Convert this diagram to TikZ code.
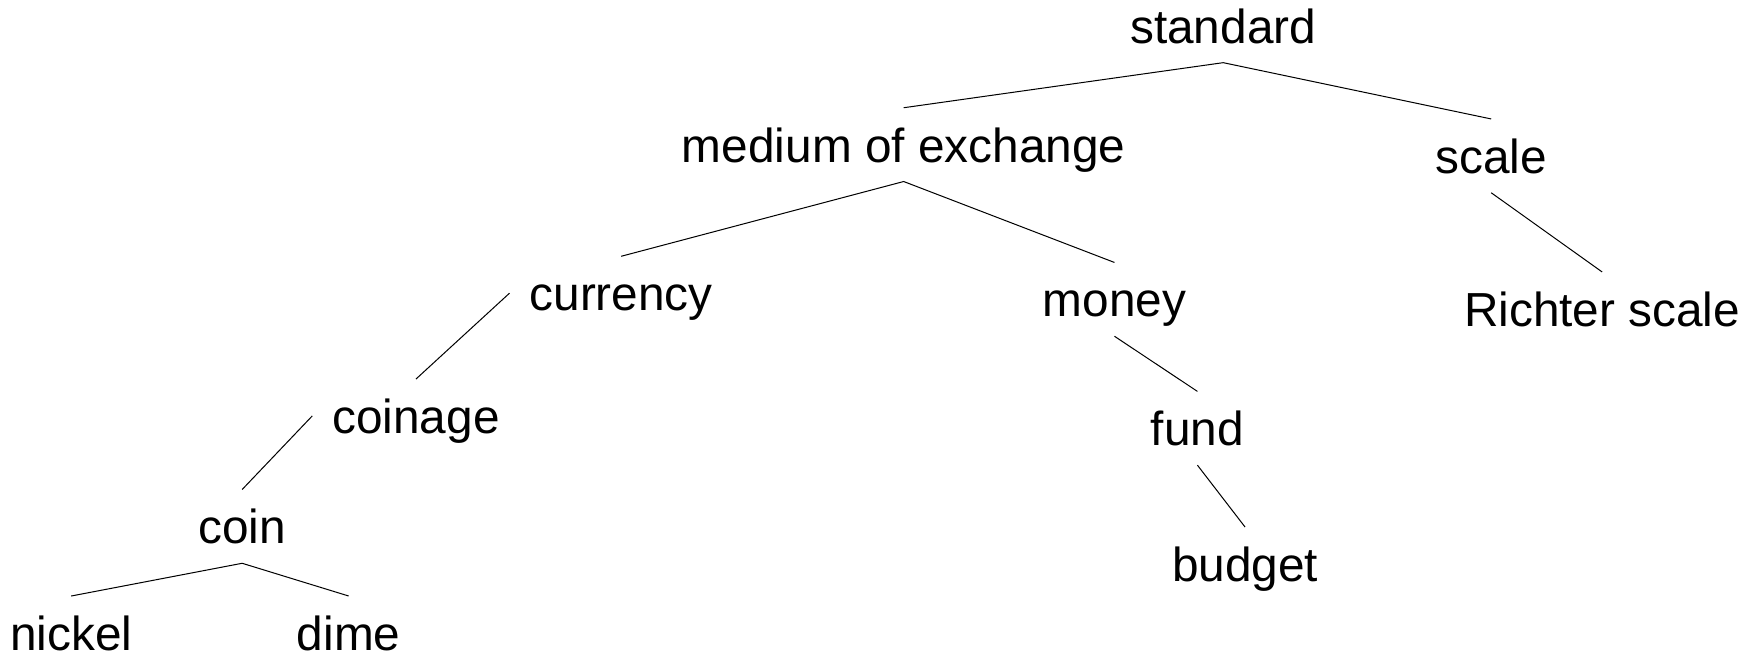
\documentclass[tikz,border=0pt]{standalone}
\usepackage{fontspec}
\setmainfont{Liberation Sans}
\begin{document}
\begin{tikzpicture}[x=0.5pt,y=-0.5pt,
  term/.style={anchor=base, inner xsep=8.75pt, inner ysep=0pt,
    text height=24pt, text depth=8.5pt,
    font=\fontsize{21.3pt}{25pt}\selectfont},
  link/.style={line width=0.45pt, black}]
\useasboundingbox (0,0) rectangle (1568,582);

\node[term] (standard) at (1091,38.5) {standard};
\node[term] (medium)   at (806,144.5) {medium of exchange};
\node[term] (scale)    at (1330,154.5) {scale};
\node[term] (currency) at (554,277)   {currency};
\node[term] (money)    at (994,282.5) {money};
\node[term] (richter)  at (1429,291)  {Richter scale};
\node[term] (coinage)  at (371,386.5) {coinage};
\node[term] (fund)     at (1068,397.5) {fund};
\node[term] (coin)     at (216,485)   {coin};
\node[term] (budget)   at (1110.5,518.5) {budget};
\node[term] (nickel)   at (63.5,580)  {nickel};
\node[term] (dime)     at (311,580)   {dime};

\draw[link] (medium.north) -- (standard.south) -- (scale.north);
\draw[link] (currency.north) -- (medium.south) -- (money.north);
\draw[link] (scale.south) -- (richter.north);
\draw[link] (currency.west) -- (coinage.north);
\draw[link] (coinage.west) -- (coin.north);
\draw[link] (nickel.north) -- (coin.south) -- (dime.north);
\draw[link] (money.south) -- (fund.north);
\draw[link] (fund.south) -- (budget.north);
\end{tikzpicture}
\end{document}
